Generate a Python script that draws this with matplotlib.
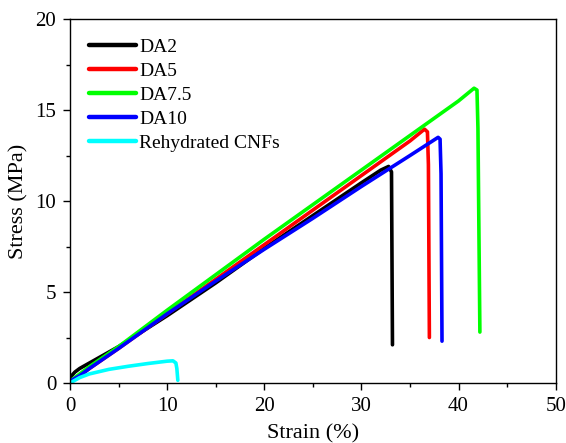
import matplotlib
matplotlib.use("Agg")
import matplotlib.pyplot as plt
from matplotlib.ticker import MultipleLocator

plt.rcParams["font.family"] = ["Liberation Serif", "DejaVu Serif"]

# stress-strain curves (strain %, stress MPa)
da2_strain = [0, 0.5, 1, 2, 3, 5, 10, 15, 20, 25, 30, 32, 32.8, 33.1, 33.2]
da2_stress = [0.3, 0.6, 0.8, 1.1, 1.4, 2.0, 3.7, 5.5, 7.4, 9.2, 11.0, 11.7, 11.9, 11.6, 2.1]

da5_strain = [0, 1, 2, 5, 10, 15, 20, 25, 30, 35, 36.5, 36.8, 36.9, 37.0]
da5_stress = [0.1, 0.4, 0.8, 1.9, 3.8, 5.7, 7.6, 9.5, 11.4, 13.3, 13.95, 13.8, 12.0, 2.5]

da75_strain = [0, 1, 2, 5, 10, 15, 20, 25, 30, 35, 40, 41.6, 41.9, 42.0, 42.2]
da75_stress = [0.1, 0.5, 0.9, 2.0, 4.0, 5.95, 7.9, 9.8, 11.7, 13.6, 15.5, 16.2, 16.1, 14.0, 2.8]

da10_strain = [0, 1, 2, 5, 10, 15, 20, 25, 30, 35, 37.9, 38.1, 38.2, 38.3]
da10_stress = [0.1, 0.4, 0.8, 1.9, 3.8, 5.6, 7.35, 9.05, 10.8, 12.5, 13.5, 13.4, 11.5, 2.3]

cnf_strain = [0, 1, 2, 4, 6, 8, 10, 10.6, 10.9, 11.0, 11.1]
cnf_stress = [0, 0.3, 0.5, 0.75, 0.92, 1.07, 1.2, 1.22, 1.1, 0.8, 0.15]

series = [
    ("DA2", da2_strain, da2_stress, "black"),
    ("DA5", da5_strain, da5_stress, "#ff0000"),
    ("DA7.5", da75_strain, da75_stress, "#00ff00"),
    ("DA10", da10_strain, da10_stress, "#0000ff"),
    ("Rehydrated CNFs", cnf_strain, cnf_stress, "#00ffff"),
]

fig = plt.figure(figsize=(5.66, 4.43), dpi=100)
ax = fig.add_axes([0.1237, 0.1354, 0.858, 0.8216])

for label, x, y, color in series:
    ax.plot(x, y, color=color, lw=2.6, label=label, solid_capstyle="round",
            solid_joinstyle="round")

ax.set_xlim(0, 50)
ax.set_ylim(0, 20)
ax.xaxis.set_major_locator(MultipleLocator(10))
ax.xaxis.set_minor_locator(MultipleLocator(5))
ax.yaxis.set_major_locator(MultipleLocator(5))
ax.yaxis.set_minor_locator(MultipleLocator(2.5))
ax.tick_params(which="both", direction="out", top=False, right=False,
               labelsize=15, width=1)
ax.tick_params(which="major", length=5, pad=5)
ax.tick_params(which="minor", length=3)
for sp in ax.spines.values():
    sp.set_linewidth(1)

ax.set_xlabel("Strain (%)", fontsize=16, labelpad=6)
ax.set_ylabel("Stress (MPa)", fontsize=16, labelpad=5)

leg = ax.legend(loc="upper left", frameon=False, fontsize=14, handlelength=2.4,
                handletextpad=0.15, labelspacing=0.33, borderaxespad=0.45,
                borderpad=0.55)
for line in leg.get_lines():
    line.set_linewidth(3.2)

fig.savefig("out.png", dpi=100)
